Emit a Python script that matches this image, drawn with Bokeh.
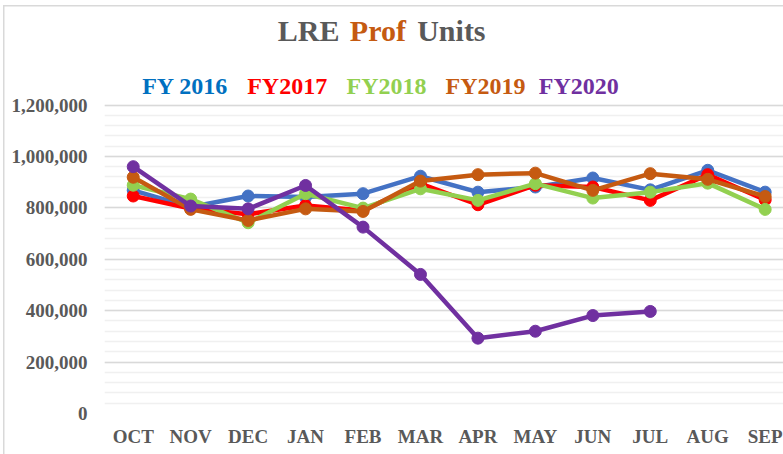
from bokeh.plotting import figure
from bokeh.models import Range1d, FixedTicker, NumeralTickFormatter
from bokeh.core.properties import value
from bokeh.embed import file_html
from bokeh.resources import INLINE

# ---- data ----
months = ["OCT", "NOV", "DEC", "JAN", "FEB", "MAR", "APR", "MAY", "JUN", "JUL", "AUG", "SEP"]
fy2016 = [868000, 803000, 846000, 842000, 855000, 923000, 861000, 881000, 916000, 870000, 946000, 861000]
fy2017 = [846000, 797000, 775000, 809000, 790000, 894000, 812000, 888000, 881000, 829000, 929000, 831000]
fy2018 = [888000, 834000, 742000, 855000, 799000, 874000, 829000, 894000, 838000, 861000, 896000, 794000]
fy2019 = [919000, 794000, 751000, 796000, 786000, 904000, 929000, 935000, 868000, 933000, 911000, 844000]
fy2020 = [960000, 807000, 796000, 887000, 725000, 541000, 293000, 320000, 381000, 397000]
series_names = ["FY 2016", "FY2017", "FY2018", "FY2019", "FY2020"]
series_values = [fy2016, fy2017, fy2018, fy2019, fy2020]
line_colors = ["#4472C4", "#FF0000", "#92D050", "#C55A11", "#7030A0"]
legend_text_colors = ["#0070C0", "#FF0000", "#92D050", "#C55A11", "#7030A0"]
title_words = ["LRE", "Prof", "Units"]
title_colors = ["#595959", "#C55A11", "#595959"]
y_ticks = [0, 200000, 400000, 600000, 800000, 1000000, 1200000]
y_minor_step = 40000

FONT = "Liberation Serif"
GRAY = "#595959"

# ---- layout (pixels) ----
W, H = 783, 454
LEFT = 104            # frame left edge
BOTTOM = 41           # space under the frame
AXIS_TOP_PX = 104.5   # pixel row of the top value of the value axis
STEP = 57.45          # pixels per month
frame_bottom = H - BOTTOM
Y_MAX = y_ticks[-1]
y_end = Y_MAX * frame_bottom / (frame_bottom - AXIS_TOP_PX)
x_end = -0.5 + (W - LEFT) / STEP

p = figure(width=W, height=H, output_backend="svg", toolbar_location=None,
           x_range=Range1d(-0.5, x_end), y_range=Range1d(0, y_end),
           min_border_left=LEFT, min_border_right=0, min_border_top=0,
           min_border_bottom=BOTTOM, background_fill_alpha=0,
           border_fill_alpha=0)
p.outline_line_color = None
# thin light-grey chart border along the top and left edges
p.styles = {"background-color": "white",
            "box-shadow": "inset 3px 5px 0 0 #ffffff, inset 4.5px 6.5px 0 0 #D9D9D9"}

x_idx = list(range(len(months)))
for name, vals, col in zip(series_names, series_values, line_colors):
    xs = x_idx[:len(vals)]
    p.line(xs, vals, line_color=col, line_width=4.5, line_join="round")
    p.scatter(xs, vals, size=12, fill_color=col, line_color=col)

# axes
p.xaxis.ticker = FixedTicker(ticks=x_idx)
p.xaxis.major_label_overrides = {i: m for i, m in enumerate(months)}
p.xaxis.axis_line_color = None
p.xaxis.major_tick_line_color = None
p.xaxis.minor_tick_line_color = None
p.xaxis.major_tick_out = 0
p.xaxis.major_tick_in = 0
p.xaxis.minor_tick_out = 0
p.xaxis.major_label_standoff = 12
p.xaxis.major_label_text_font = FONT
p.xaxis.major_label_text_font_style = "bold"
p.xaxis.major_label_text_font_size = "19px"
p.xaxis.major_label_text_color = GRAY

minor = list(range(0, Y_MAX + 1, y_minor_step))
p.yaxis.ticker = FixedTicker(ticks=y_ticks, minor_ticks=minor)
p.yaxis.formatter = NumeralTickFormatter(format="0,0")
p.yaxis.axis_line_color = None
p.yaxis.major_tick_line_color = None
p.yaxis.minor_tick_line_color = None
p.yaxis.major_tick_out = 0
p.yaxis.major_tick_in = 0
p.yaxis.minor_tick_out = 0
p.yaxis.major_label_standoff = 17
p.yaxis.major_label_text_font = FONT
p.yaxis.major_label_text_font_style = "bold"
p.yaxis.major_label_text_font_size = "19px"
p.yaxis.major_label_text_color = GRAY

p.xgrid.grid_line_color = None
p.ygrid.grid_line_color = "#D9D9D9"
p.ygrid.grid_line_width = 1.5
p.ygrid.minor_grid_line_color = "#F0F0F0"
p.ygrid.minor_grid_line_width = 1.5

# header texts, placed through the plot's own scales
def px_x(px):
    return -0.5 + (px - LEFT) / STEP

def px_y(py):
    return (frame_bottom - py) * y_end / frame_bottom

title_px = [277.3, 349.3, 416.7]
p.text(x=[px_x(v) for v in title_px], y=[px_y(30.4)] * len(title_words),
       text=title_words, text_color=title_colors,
       text_font=value(FONT), text_font_style="bold",
       text_font_size=value("30px"), text_align="left",
       text_baseline="middle")

legend_px = [141.7, 246.7, 346.0, 445.0, 538.3]
p.text(x=[px_x(v) for v in legend_px], y=[px_y(85.6)] * len(series_names),
       text=series_names, text_color=legend_text_colors,
       text_font=value(FONT), text_font_style="bold",
       text_font_size=value("24px"), text_align="left",
       text_baseline="middle")

open("out.html", "w").write(file_html(p, INLINE))
